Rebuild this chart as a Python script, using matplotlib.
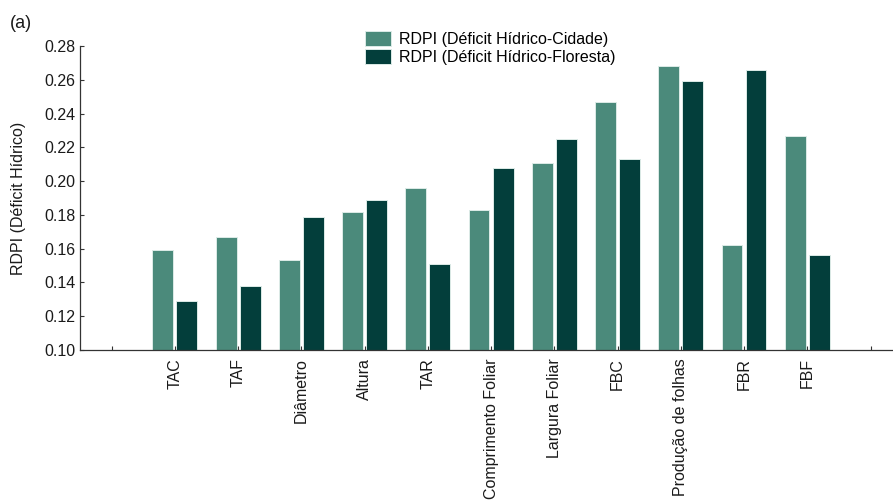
import numpy as np
import matplotlib.pyplot as plt

plt.rcParams['font.family'] = ['Liberation Sans', 'DejaVu Sans']

# traits, with an empty slot on each side of the axis
traits = ["TAC", "TAF", "Diâmetro", "Altura", "TAR", "Comprimento Foliar",
          "Largura Foliar", "FBC", "Produção de folhas", "FBR", "FBF"]
rdpi_cidade = [0.159, 0.167, 0.153, 0.182, 0.196, 0.183, 0.211, 0.247, 0.268, 0.162, 0.227]
rdpi_floresta = [0.129, 0.138, 0.179, 0.189, 0.151, 0.208, 0.225, 0.213, 0.259, 0.266, 0.156]

fig = plt.figure(figsize=(8.93, 5), dpi=100)
ax = fig.add_axes([0.0896, 0.30, 0.91, 0.608])

x = np.arange(1, len(traits) + 1)
w = 0.33
ax.bar(x - 0.19, np.array(rdpi_cidade) - 0.10, w, bottom=0.10, color="#4b8a7b",
       edgecolor="#dcebe7", linewidth=0.7, label="RDPI (Déficit Hídrico-Cidade)")
ax.bar(x + 0.19, np.array(rdpi_floresta) - 0.10, w, bottom=0.10, color="#033e3b",
       edgecolor="#dcebe7", linewidth=0.7, label="RDPI (Déficit Hídrico-Floresta)")

ax.set_xlim(-0.5, 12.35)
ax.set_ylim(0.10, 0.28)
ax.set_xticks(np.arange(0, len(traits) + 2))
ax.set_xticklabels([""] + traits + [""], rotation=90, fontsize=11.5)
ax.set_yticks(np.arange(0.10, 0.281, 0.02))
ax.set_yticklabels([f"{v:.2f}" for v in np.arange(0.10, 0.281, 0.02)], fontsize=11.5)
ax.tick_params(direction="in", length=3, width=0.8, colors="#333333", labelcolor="#1a1a1a")
ax.tick_params(axis="x", pad=6)

for side in ["top", "right"]:
    ax.spines[side].set_visible(False)
for side in ["left", "bottom"]:
    ax.spines[side].set_color("#333333")
    ax.spines[side].set_linewidth(0.9)

ax.set_ylabel("RDPI (Déficit Hídrico)", fontsize=11.5, color="#1a1a1a", labelpad=13)

ax.legend(loc="upper left", bbox_to_anchor=(0.343, 1.072), frameon=False,
          fontsize=11.5, handlelength=1.6, handleheight=1.1, handletextpad=0.5,
          labelspacing=0.15, borderaxespad=0)

fig.text(0.011, 0.945, "(a)", fontsize=13, color="#1a1a1a")

fig.savefig("out.png", dpi=100)
